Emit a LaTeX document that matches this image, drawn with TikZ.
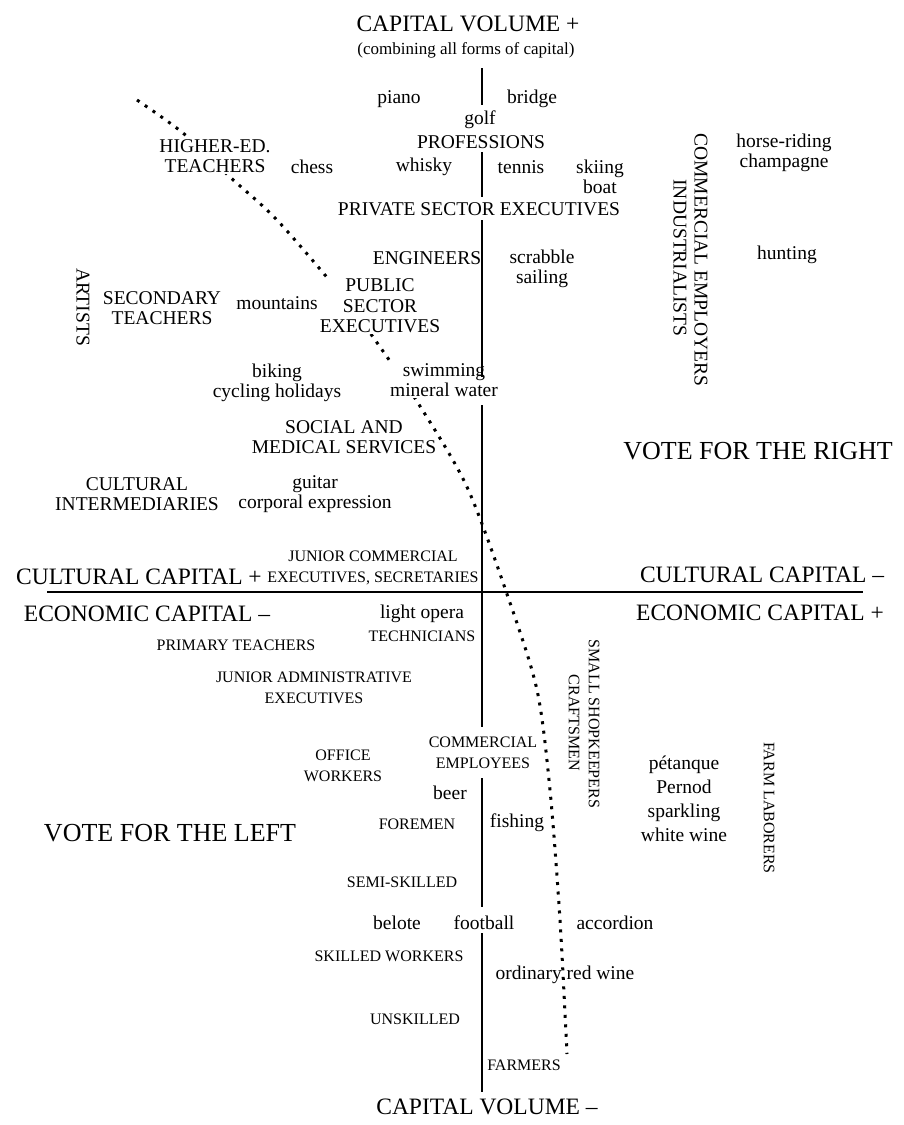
\documentclass[tikz,border=0pt]{standalone}
\usepackage{fontspec}
\setmainfont{Liberation Serif}
\usetikzlibrary{positioning}

\begin{document}
\begin{tikzpicture}[x=1pt,y=-1pt,
  grp/.style={font=\fontsize{19.5}{20.5}\selectfont,align=center},
  grpsm/.style={font=\fontsize{16}{20.5}\selectfont,align=center},
  taste/.style={font=\fontsize{19.5}{20.5}\selectfont,align=center},
  pole/.style={font=\fontsize{23.5}{26}\selectfont},
  vote/.style={font=\fontsize{26}{28}\selectfont},
  cover/.style={fill=white},
  axisline/.style={line width=2.4pt},
  frontier/.style={line width=3pt,dash pattern=on 3pt off 6.5pt}]
\tikzstyle{every node}+=[inner sep=1pt]
\useasboundingbox (0,0) rectangle (903,1125);

% dotted frontier between left and right vote
\coordinate (f1) at (137,100);
\coordinate (f2) at (183,133);
\coordinate (f3) at (230,177);
\coordinate (f4) at (277,220);
\coordinate (f5) at (340,293);
\coordinate (f6) at (373,337);
\coordinate (f7) at (418,403);
\coordinate (f8) at (467,487);
\coordinate (f9) at (508,597);
\coordinate (f10) at (537,690);
\coordinate (f11) at (550,790);
\coordinate (f12) at (560,920);
\coordinate (f13) at (567,1054);
\draw[frontier] plot[smooth] coordinates {(f1) (f2) (f3) (f4) (f5) (f6) (f7) (f8) (f9) (f10) (f11) (f12) (f13)};

% top
\node[pole] (capup) at (468,24) {CAPITAL VOLUME +};
\node[font=\fontsize{17}{19}\selectfont] (combining) at (466,50) {(combining all forms of capital)};
\node[taste] (piano) at (399,99) {piano};
\node[taste] (bridge) at (532,99) {bridge};
\node[taste] (golf) at (480,120) {golf};
\node[grp] (prof) at (481,142) {PROFESSIONS};
\node[grp,cover] (higher) at (215,156) {HIGHER-ED.\\TEACHERS};
\node[taste] (chess) at (312,167) {chess};
\node[taste] (whisky) at (424,167) {whisky};
\node[taste] (tennis) at (521,167) {tennis};
\node[taste] (skiing) at (600,177) {skiing\\boat};
\node[grp] (private) at (479,209) {PRIVATE SECTOR EXECUTIVES};
\node[grp] (engineers) at (427,258) {ENGINEERS};
\node[taste] (scrabble) at (542,269) {scrabble\\sailing};
\node[grp,rotate=-90] (artists) at (83,307) {ARTISTS};
\node[grp] (secondary) at (162,308) {SECONDARY\\TEACHERS};
\node[taste] (mountains) at (277,303) {mountains};
\node[grp,cover] (public) at (380,306) {PUBLIC\\SECTOR\\EXECUTIVES};
\node[taste] (biking) at (277,383) {biking\\cycling holidays};
\node[taste,cover] (swimming) at (444,380) {swimming\\mineral water};
\node[grp] (social) at (344,437) {SOCIAL AND\\MEDICAL SERVICES};
\node[grp] (cultural) at (137,494) {CULTURAL\\INTERMEDIARIES};
\node[taste] (guitar) at (315,494) {guitar\\corporal expression};
\node[grp,rotate=-90] (employers) at (701,260) {COMMERCIAL EMPLOYERS};
\node[grp,rotate=-90] (industrialists) at (680,258) {INDUSTRIALISTS};
\node[taste] (horse) at (784,153) {horse-riding\\champagne};
\node[taste] (hunting) at (787,255) {hunting};
\node[vote] (right) at (758,451) {VOTE FOR THE RIGHT};

% the two axes and their poles
\node[grpsm] (junior) at (373,556) {JUNIOR COMMERCIAL};
\node[pole] (culturalplus) at (139,577) {CULTURAL CAPITAL +};
\node[grpsm] (secretaries) at (373,578) {EXECUTIVES, SECRETARIES};
\node[pole] (culturalminus) at (762,575) {CULTURAL CAPITAL --};
\node[pole] (economicminus) at (147,614) {ECONOMIC CAPITAL --};
\node[pole] (economicplus) at (760,613) {ECONOMIC CAPITAL +};

% bottom
\node[taste] (opera) at (422,614) {light opera};
\node[grpsm] (technicians) at (422,636) {TECHNICIANS};
\node[grpsm] (primary) at (236,645) {PRIMARY TEACHERS};
\node[grpsm] (junioradmin) at (314,688) {JUNIOR ADMINISTRATIVE\\EXECUTIVES};
\node[grpsm,rotate=-90] (shopkeepers) at (594,724) {SMALL SHOPKEEPERS};
\node[grpsm,rotate=-90] (craftsmen) at (574,723) {CRAFTSMEN};
\node[grpsm] (office) at (343,766) {OFFICE\\WORKERS};
\node[grpsm] (commercial) at (483,753) {COMMERCIAL\\EMPLOYEES};
\node[taste,font=\fontsize{19.5}{24}\selectfont] (petanque) at (684,799) {pétanque\\Pernod\\sparkling\\white wine};
\node[grpsm,rotate=-90] (laborers) at (769,808) {FARM LABORERS};
\node[taste] (beer) at (450,793) {beer};
\node[grpsm] (foremen) at (417,824) {FOREMEN};
\node[taste] (fishing) at (517,823) {fishing};
\node[vote] (left) at (170,833) {VOTE FOR THE LEFT};
\node[grpsm] (semiskilled) at (402,882) {SEMI-SKILLED};
\node[taste] (belote) at (397,923) {belote};
\node[taste] (football) at (484,923) {football};
\node[taste] (accordion) at (615,923) {accordion};
\node[grpsm] (skilled) at (389,956) {SKILLED WORKERS};
\node[taste] (redwine) at (565,975) {ordinary red wine};
\node[grpsm] (unskilled) at (415,1019) {UNSKILLED};
\node[grpsm] (farmers) at (524,1065) {FARMERS};
\node[pole] (capdown) at (487,1107) {CAPITAL VOLUME --};

% axis breaks
\coordinate (v1) at (482,68);
\coordinate (v2) at (482,105);
\coordinate (v3) at (482,152);
\coordinate (v4) at (482,197);
\coordinate (v5) at (482,220);
\coordinate (v6) at (482,377);
\coordinate (v7) at (482,405);
\coordinate (v8) at (482,727);
\coordinate (v9) at (482,778);
\coordinate (v10) at (482,907);
\coordinate (v11) at (482,933);
\coordinate (v12) at (482,1092);
\coordinate (h1) at (47,592);
\coordinate (h2) at (863,592);
\draw[axisline] (v1) -- (v2);
\draw[axisline] (v3) -- (v4);
\draw[axisline] (v5) -- (v6);
\draw[axisline] (v7) -- (v8);
\draw[axisline] (v9) -- (v10);
\draw[axisline] (v11) -- (v12);
\draw[axisline] (h1) -- (h2);
\end{tikzpicture}
\end{document}
